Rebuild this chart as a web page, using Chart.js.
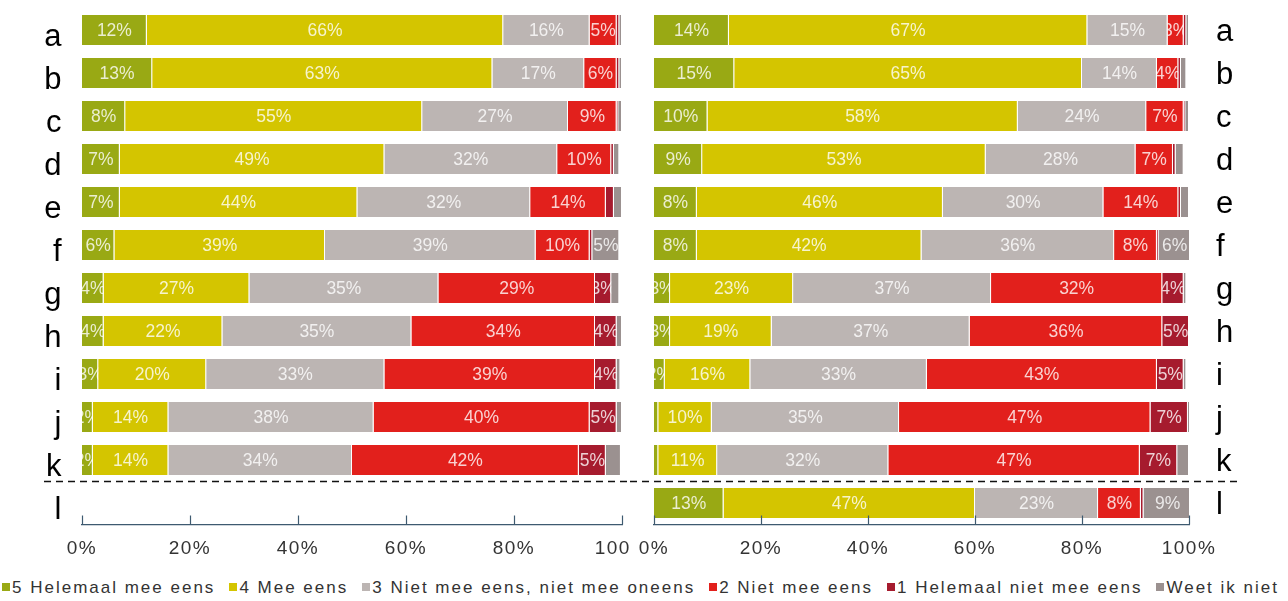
<!DOCTYPE html>
<html>
<head>
<meta charset="utf-8">
<script src="https://cdn.jsdelivr.net/npm/chart.js@4"></script>
<style>
  body { margin: 0; background: #fff; width: 1288px; height: 601px; overflow: hidden; position: relative; font-family: "Liberation Sans", Arial, sans-serif; }
  #leftChart { position: absolute; left: 0; top: 0; }
  /* right panel sits on top and hides the "%" of the left "100%" */
  #rightChart { position: absolute; left: 630px; top: 0; background: #fff; }
  #legend { position: absolute; left: 2px; top: 578px; display: flex; gap: 14px; font-size: 17px; letter-spacing: 2px; color: #333; white-space: nowrap; line-height: 20px; }
  #legend span.box { display: inline-block; width: 8px; height: 8px; margin-right: 2px; vertical-align: 2px; }
</style>
</head>
<body>
<canvas id="leftChart" width="640" height="565"></canvas>
<canvas id="rightChart" width="658" height="565"></canvas>
<div id="legend"></div>
<script>
const FONT = '"Liberation Sans", Arial, sans-serif';

const categories = ['a', 'b', 'c', 'd', 'e', 'f', 'g', 'h', 'i', 'j', 'k', 'l'];
const seriesNames = ['5 Helemaal mee eens', '4 Mee eens', '3 Niet mee eens, niet mee oneens', '2 Niet mee eens', '1 Helemaal niet mee eens', 'Weet ik niet'];
const seriesColors = ['#99a914', '#d4c500', '#bcb5b3', '#e2201c', '#a61b2e', '#9b9190'];
const labelMin = [2, 2, 2, 2, 2, 3];
const xTicks = [0, 20, 40, 60, 80, 100];

// left panel (no bar for l)
const left5 = [12, 13, 8, 7, 7, 6, 4, 4, 3, 2, 2, null];
const left4 = [66, 63, 55, 49, 44, 39, 27, 22, 20, 14, 14, null];
const left3 = [16, 17, 27, 32, 32, 39, 35, 35, 33, 38, 34, null];
const left2 = [5, 6, 9, 10, 14, 10, 29, 34, 39, 40, 42, null];
const left1 = [0.5, 0.5, 0.3, 0.5, 1.5, 0.5, 3, 4, 4, 5, 5, null];
const leftDk = [0.5, 0.5, 0.7, 1, 1.5, 5, 1.5, 1, 0.7, 1, 2.8, null];

// right panel
const right5 = [14, 15, 10, 9, 8, 8, 3, 3, 2, 0.8, 0.8, 13];
const right4 = [67, 65, 58, 53, 46, 42, 23, 19, 16, 10, 11, 47];
const right3 = [15, 14, 24, 28, 30, 36, 37, 37, 33, 35, 32, 23];
const right2 = [3, 4, 7, 7, 14, 8, 32, 36, 43, 47, 47, 8];
const right1 = [0.5, 0.5, 0.3, 0.5, 0.5, 0.3, 4, 5, 5, 7, 7, 0.5];
const rightDk = [0.5, 1, 0.7, 1.5, 1.5, 6, 0.5, 0.3, 0.5, 0.5, 2.2, 9];

const leftSeries = [left5, left4, left3, left2, left1, leftDk];
const rightSeries = [right5, right4, right3, right2, right1, rightDk];

const AXIS_COLOR = '#3e5a70';

// wider letter spacing for axis text, like the original
const spacing = {
  id: 'spacing',
  beforeDraw(chart) { chart.ctx.letterSpacing = '1.5px'; },
};

// percentage text inside each segment, clipped to the segment
const segmentLabels = {
  id: 'segmentLabels',
  afterDatasetsDraw(chart) {
    const { ctx } = chart;
    chart.data.datasets.forEach((ds, i) => {
      chart.getDatasetMeta(i).data.forEach((bar, j) => {
        const v = ds.data[j];
        if (v == null || v < labelMin[i]) return;
        const { x, y, base, height } = bar.getProps(['x', 'y', 'base', 'height'], true);
        ctx.save();
        ctx.letterSpacing = '0px';
        ctx.beginPath();
        ctx.rect(Math.min(base, x), y - height / 2, Math.abs(x - base), height);
        ctx.clip();
        ctx.font = '17.5px ' + FONT;
        ctx.fillStyle = 'rgba(255,255,255,0.8)';
        ctx.textAlign = 'center';
        ctx.textBaseline = 'middle';
        ctx.fillText(Math.round(v) + '%', (x + base) / 2, y + 1);
        ctx.restore();
      });
    });
  },
};

// small tick marks pointing up from the x axis line
const upTicks = {
  id: 'upTicks',
  afterDraw(chart) {
    const { ctx } = chart;
    const xs = chart.scales.x;
    ctx.save();
    ctx.strokeStyle = AXIS_COLOR;
    ctx.lineWidth = 1.2;
    xs.ticks.forEach(t => {
      const px = Math.round(xs.getPixelForValue(t.value)) + 0.5;
      ctx.beginPath();
      ctx.moveTo(px, xs.top);
      ctx.lineTo(px, xs.top - 9);
      ctx.stroke();
    });
    ctx.restore();
  },
};

// dashed separator between k and l
function separator(x0, x1) {
  return {
    id: 'separator',
    afterDraw(chart) {
      const { ctx } = chart;
      const ys = chart.scales.y;
      const py = (ys.getPixelForValue(10) + ys.getPixelForValue(11)) / 2;
      ctx.save();
      ctx.setLineDash([7, 5]);
      ctx.lineWidth = 1.5;
      ctx.strokeStyle = '#111';
      ctx.beginPath();
      ctx.moveTo(x0, py);
      ctx.lineTo(x1, py);
      ctx.stroke();
      ctx.restore();
    },
  };
}

// drop the automatic label overflow padding so the plot area is fixed
function noPad(s) {
  s.paddingTop = 0;
  s.paddingBottom = 0;
  s.paddingLeft = 0;
  s.paddingRight = 0;
}

function buildChart(id, series, isLeft) {
  return new Chart(document.getElementById(id), {
    type: 'bar',
    data: {
      labels: categories,
      datasets: series.map((values, i) => ({
        label: seriesNames[i],
        data: values,
        backgroundColor: seriesColors[i],
        borderColor: 'rgba(255,255,255,0.85)',
        borderWidth: { right: 1 },
        categoryPercentage: 1,
        barPercentage: 0.7,
      })),
    },
    options: {
      indexAxis: 'y',
      responsive: false,
      animation: false,
      layout: { padding: isLeft ? { top: 8.5, right: 18 } : { top: 8.5, left: 24 } },
      scales: {
        x: {
          stacked: true,
          min: 0,
          max: 100,
          afterBuildTicks: s => { s.ticks = xTicks.map(v => ({ value: v })); },
          grid: { display: false },
          border: { display: true, color: AXIS_COLOR, width: 1.2 },
          ticks: {
            padding: 5,
            autoSkip: false,
            maxRotation: 0,
            color: '#333',
            font: { size: 19, family: FONT },
            callback: v => v + '%',
          },
          afterFit: s => { s.height = 40.5; noPad(s); },
        },
        y: {
          stacked: true,
          position: isLeft ? 'left' : 'right',
          grid: { display: false },
          border: { display: false },
          ticks: {
            padding: isLeft ? 11 : 19,
            labelOffset: isLeft ? 7 : 2,
            color: '#000',
            font: { size: 31, family: FONT },
          },
          afterFit: s => { s.width = isLeft ? 82 : 99; noPad(s); },
        },
      },
      plugins: {
        legend: { display: false },
        tooltip: { enabled: false },
      },
    },
    plugins: [spacing, segmentLabels, upTicks, isLeft ? separator(44, 640) : separator(0, 610)],
  });
}

buildChart('leftChart', leftSeries, true);
buildChart('rightChart', rightSeries, false);

// shared legend
const legendEl = document.getElementById('legend');
seriesNames.forEach((name, i) => {
  const item = document.createElement('div');
  item.innerHTML = '<span class="box" style="background:' + seriesColors[i] + '"></span>' + name;
  legendEl.appendChild(item);
});
</script>
</body>
</html>
